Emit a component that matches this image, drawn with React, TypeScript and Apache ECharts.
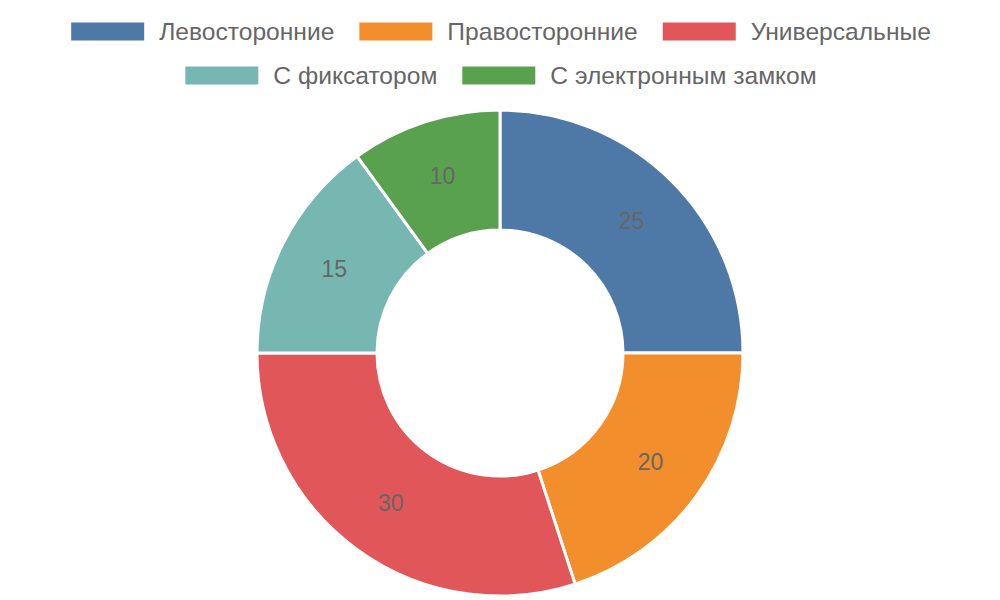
import { useEffect, useRef } from 'react';
import * as echarts from 'echarts';

const categories = ['Левосторонние', 'Правосторонние', 'Универсальные', 'С фиксатором', 'С электронным замком'];
const values = [25, 20, 30, 15, 10];
const colors = ['#4e79a7', '#f28e2b', '#e15759', '#76b7b2', '#59a14f'];
// legend rows as they are wrapped in the picture
const legendRows = [categories.slice(0, 3), categories.slice(3)];

export default function App() {
  const chartRef = useRef<HTMLDivElement>(null);

  useEffect(() => {
    document.body.style.margin = '0';
    if (!chartRef.current) return;
    const chart = echarts.init(chartRef.current, undefined, { renderer: 'svg' });

    const font = '"Liberation Sans", Arial, sans-serif';

    chart.setOption({
      animation: false,
      backgroundColor: '#ffffff',
      color: colors,
      legend: legendRows.map((row, i) => ({
        top: 19 + i * 44,
        left: 'center',
        padding: 0,
        itemWidth: 75,
        itemHeight: 20,
        itemGap: 23,
        icon: 'rect',
        data: row,
        textStyle: {
          color: '#666666',
          fontSize: 24.6,
          fontFamily: font,
          padding: [0, 0, 0, 9],
          lineHeight: 22
        }
      })),
      series: [
        {
          name: 'Замки',
          type: 'pie',
          radius: [123, 243],
          center: [500, 353],
          startAngle: 90,
          clockwise: true,
          itemStyle: {
            borderColor: '#ffffff',
            borderWidth: 3
          },
          label: {
            show: true,
            position: 'inside',
            formatter: '{c}',
            color: '#666666',
            fontSize: 23,
            fontFamily: font
          },
          labelLine: { show: false },
          data: categories.map((name, i) => ({ name, value: values[i] }))
        }
      ]
    });

    return () => {
      chart.dispose();
    };
  }, []);

  return <div ref={chartRef} style={{ width: '1000px', height: '600px' }}></div>;
}
